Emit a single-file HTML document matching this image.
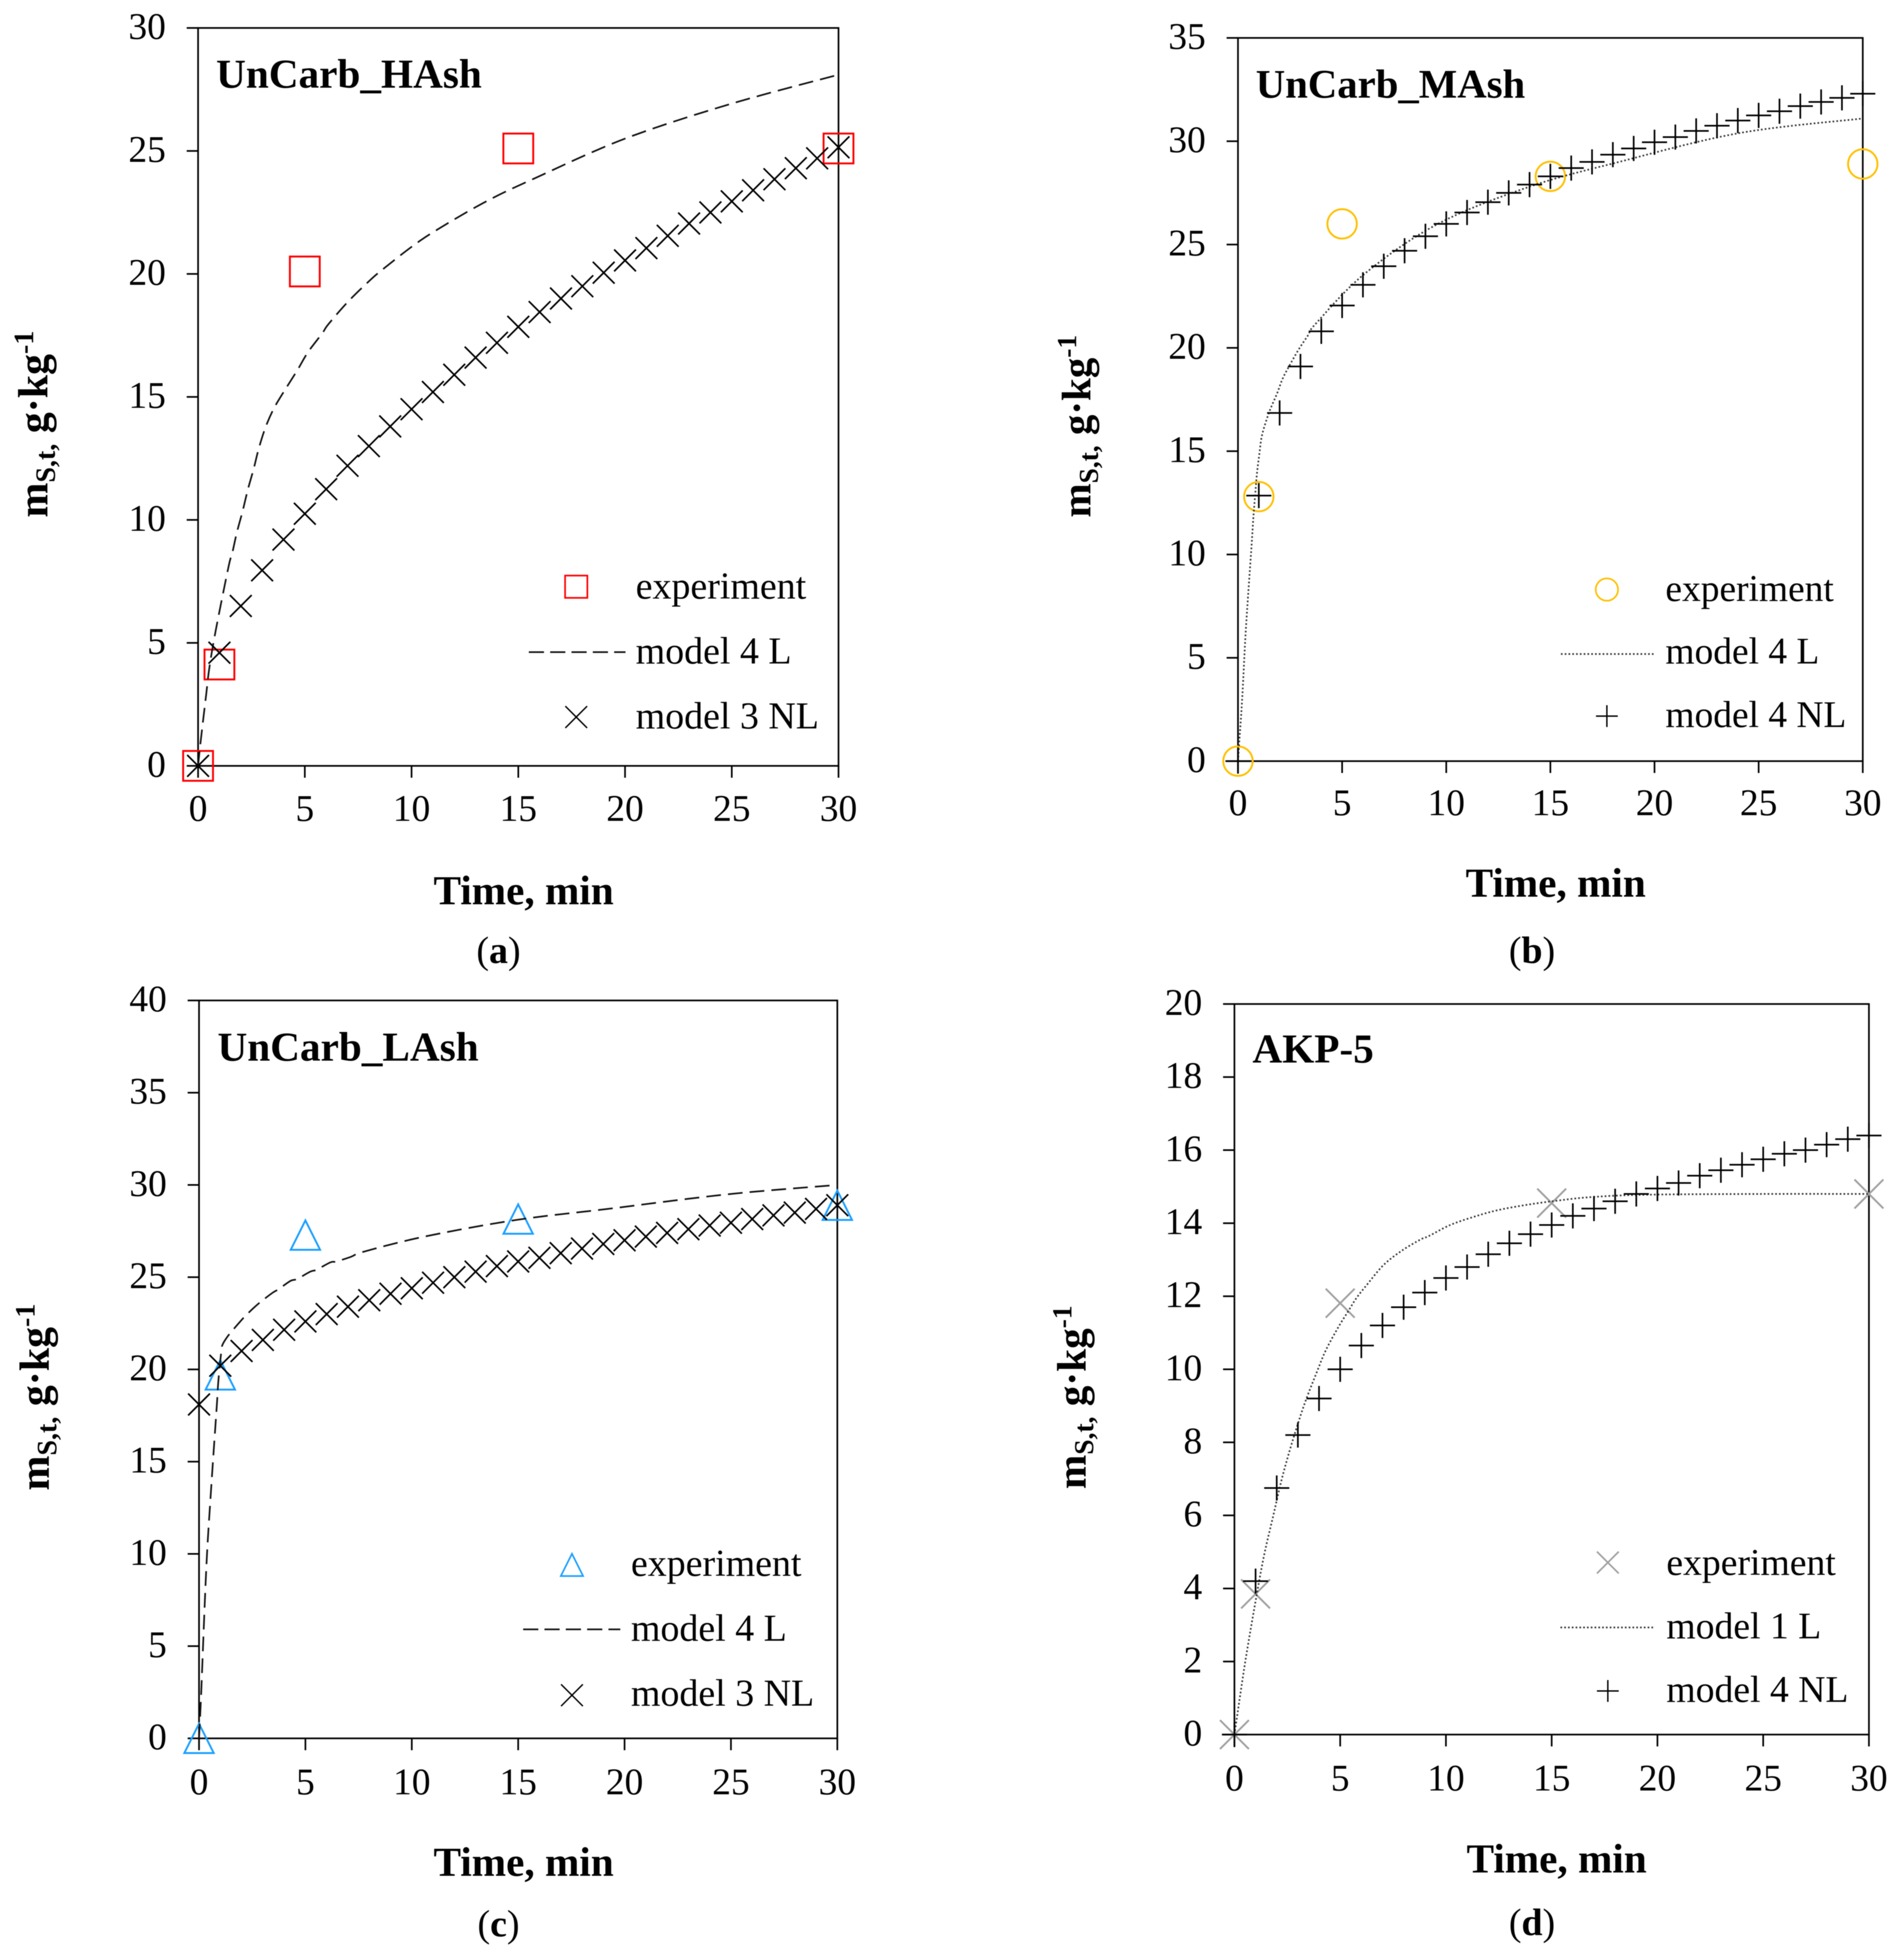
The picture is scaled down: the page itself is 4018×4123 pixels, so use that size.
<!DOCTYPE html>
<html lang="en">
<head>
<meta charset="utf-8">
<title>Kinetic model charts</title>
<style>
html,body{margin:0;padding:0;background:#fff;}
svg{display:block;filter:blur(0.7px);}
text{font-family:"Liberation Serif",serif;fill:#000;}
</style>
</head>
<body>
<svg id="figure" xmlns="http://www.w3.org/2000/svg" width="4018" height="4123" viewBox="0 0 4018 4123">
<rect x="0" y="0" width="4018" height="4123" fill="#fff"></rect>
</svg>
<script>
// ---- shared data ----
const xTicks = [0, 5, 10, 15, 20, 25, 30];
const modelTimes = [0,1,2,3,4,5,6,7,8,9,10,11,12,13,14,15,16,17,18,19,20,21,22,23,24,25,26,27,28,29,30];
const expTimes = [0, 1, 5, 15, 30];

// ---- panel (a) ----
const aTicksY = [0, 5, 10, 15, 20, 25, 30];
const aExp = [0, 4.12, 20.1, 25.1, 25.1];
const aLineT = [0, 0.13, 0.38, 0.53, 0.82, 1.42, 1.6, 1.82, 2.09, 2.33, 2.6, 2.84, 3.15, 3.55, 4.08, 4.64, 5.15, 5.82, 6.1, 7, 8, 8.6, 10, 11.2, 13.5, 15.8, 20, 24.9, 30];
const aLineV = [0, 1.07, 2.9, 4, 5.47, 8.07, 8.65, 9.5, 10.37, 11.23, 12.06, 12.89, 13.74, 14.53, 15.3, 16.07, 16.82, 17.59, 17.95, 18.85, 19.7, 20.15, 21.1, 21.8, 22.95, 23.9, 25.5, 26.9, 28.1];
const aModel = [0,4.6,6.5,7.95,9.2,10.25,11.25,12.2,13,13.8,14.5,15.2,15.9,16.6,17.2,17.85,18.45,19,19.5,20.05,20.55,21.05,21.55,22.05,22.5,22.95,23.4,23.85,24.3,24.7,25.15];
const aLegend = ["experiment", "model 4 L", "model 3 NL"];

// ---- panel (b) ----
const bTicksY = [0, 5, 10, 15, 20, 25, 30, 35];
const bExp = [0, 12.8, 26, 28.3, 28.9];
const bLineT = [0, 0.06, 0.15, 0.24, 0.35, 0.47, 0.65, 0.74, 0.85, 0.93, 1.02, 1.12, 1.27, 1.54, 1.88, 2.14, 2.45, 2.9, 3.36, 3.76, 6.1, 9.6, 14, 18.3, 24.1, 30];
const bLineV = [0, 0.9, 2.2, 3.7, 5.9, 7.8, 10.4, 11.8, 13.2, 14.1, 14.8, 15.6, 16.2, 17, 17.8, 18.5, 19.1, 19.9, 20.6, 21.2, 23.6, 26, 27.8, 29, 30.4, 31.1];
const bModel = [0,12.85,16.85,19.1,20.8,22.05,23.05,23.95,24.7,25.4,26,26.55,27.05,27.5,27.9,28.3,28.7,29,29.35,29.65,29.95,30.2,30.5,30.75,31,31.25,31.45,31.7,31.9,32.1,32.3];
const bLegend = ["experiment", "model 4 L", "model 4 NL"];

// ---- panel (c) ----
const cTicksY = [0, 5, 10, 15, 20, 25, 30, 35, 40];
const cExp = [0, 19.7, 27.28, 28.15, 28.9];
const cLineT = [0, 0.1, 0.34, 0.55, 0.71, 0.78, 0.85, 0.91, 1.05, 1.11, 1.29, 1.49, 1.94, 2.18, 2.63, 2.94, 3.45, 3.74, 4.3, 4.61, 5.23, 5.52, 6.17, 6.46, 7.13, 7.8, 10.6, 14.9, 19.2, 24.9, 30];
const cLineV = [0, 2.4, 9.2, 13.2, 15.95, 17.1, 18.3, 19.4, 21, 21.35, 21.7, 22, 22.6, 22.9, 23.4, 23.7, 24.15, 24.35, 24.8, 24.9, 25.3, 25.4, 25.8, 25.85, 26.1, 26.4, 27.2, 28.1, 28.7, 29.5, 30];
const cModel = [18.1,20.2,21,21.6,22.15,22.6,23,23.4,23.75,24.1,24.4,24.7,25,25.3,25.6,25.85,26.05,26.3,26.55,26.8,27,27.2,27.4,27.6,27.8,27.95,28.15,28.35,28.5,28.7,28.9];
const cLegend = ["experiment", "model 4 L", "model 3 NL"];

// ---- panel (d) ----
const dTicksY = [0, 2, 4, 6, 8, 10, 12, 14, 16, 18, 20];
const dExp = [0, 3.85, 11.81, 14.55, 14.8];
const dLineT = [0, 0.5, 1, 1.4, 1.84, 2.22, 2.6, 2.99, 3.38, 3.9, 4.32, 4.93, 5.36, 5.78, 6.3, 7.06, 7.92, 8.79, 9.2, 10.2, 11.3, 12.4, 13.8, 15.3, 17, 19.6, 25, 30];
const dLineV = [0, 1.95, 3.65, 4.9, 6, 6.95, 7.75, 8.49, 9.16, 9.93, 10.52, 11.17, 11.57, 11.96, 12.34, 12.86, 13.25, 13.55, 13.65, 13.95, 14.17, 14.35, 14.5, 14.62, 14.72, 14.78, 14.8, 14.8];
const dModel = [0,4.2,6.75,8.2,9.2,10,10.65,11.2,11.7,12.1,12.5,12.8,13.15,13.45,13.7,13.95,14.2,14.4,14.6,14.8,14.95,15.1,15.3,15.45,15.6,15.75,15.9,16,16.15,16.3,16.4];
const dLegend = ["experiment", "model 1 L", "model 4 NL"];

// ---- panel layout ----
const panels = [
  {id:"a", title:"UnCarb_HAsh", cap:"a", x0:418, x1:1769.5, y0:1616, y1:59, yMax:30, ticksY:aTicksY, exp:aExp, lineT:aLineT, lineV:aLineV, model:aModel, legend:aLegend,
   expShape:"square", expColor:"#ff0000", dash:"31 15", lineColor:"#111", modelShape:"cross", xLabelDy:116,
   titleX:456, titleY:185, titleSize:87, xTitleX:1105, xTitleY:1908, capX:1052, capY:2032, yTitleX:100, yTitleY:1092, yTitleSize:88.5,
   legText:1341.5, legSize:80, legBase:[1263,1400,1537], legX:1216, legY:[1238,1376,1513], legLine:[1116,1320]},
  {id:"b", title:"UnCarb_MAsh", cap:"b", x0:2612.5, x1:3931, y0:1606, y1:80, yMax:35, ticksY:bTicksY, exp:bExp, lineT:bLineT, lineV:bLineV, model:bModel, legend:bLegend,
   expShape:"circle", expColor:"#ffc000", dash:"3.5 4.5", lineColor:"#333", modelShape:"plus", xLabelDy:114,
   titleX:2650, titleY:206, titleSize:86, xTitleX:3283, xTitleY:1892, capX:3233, capY:2032, yTitleX:2301, yTitleY:1092, yTitleSize:86.5,
   legText:3514.5, legSize:79, legBase:[1268,1400,1534], legX:3391, legY:[1244,1380,1511], legLine:[3294,3491]},
  {id:"c", title:"UnCarb_LAsh", cap:"c", x0:420, x1:1767, y0:3668, y1:2111, yMax:40, ticksY:cTicksY, exp:cExp, lineT:cLineT, lineV:cLineV, model:cModel, legend:cLegend,
   expShape:"triangle", expColor:"#1a9fff", dash:"31 15", lineColor:"#111", modelShape:"cross", xLabelDy:118,
   titleX:459, titleY:2238, titleSize:87, xTitleX:1105, xTitleY:3958, capX:1052, capY:4086, yTitleX:103, yTitleY:3145, yTitleSize:88.5,
   legText:1331.5, legSize:80, legBase:[3325,3462,3599], legX:1207, legY:[3302,3438,3577], legLine:[1104,1309]},
  {id:"d", title:"AKP-5", cap:"d", x0:2605, x1:3944, y0:3660, y1:2118.5, yMax:20, ticksY:dTicksY, exp:dExp, lineT:dLineT, lineV:dLineV, model:dModel, legend:dLegend,
   expShape:"bigcross", expColor:"#a0a0a0", dash:"3.5 4.5", lineColor:"#333", modelShape:"plus", xLabelDy:118,
   titleX:2643, titleY:2242, titleSize:87, xTitleX:3285, xTitleY:3951, capX:3233, capY:4083, yTitleX:2291, yTitleY:3142, yTitleSize:87,
   legText:3516.5, legSize:79.5, legBase:[3323,3457,3591], legX:3393, legY:[3297,3434,3568], legLine:[3293,3493]}
];

const NS = "http://www.w3.org/2000/svg";
const root = document.getElementById("figure");

function mk(tag, parent, attrs) {
  const n = document.createElementNS(NS, tag);
  for (const k in attrs) n.setAttribute(k, attrs[k]);
  parent.appendChild(n);
  return n;
}

function segment(parent, x1, y1, x2, y2, color, width) {
  return mk("line", parent, {x1:x1, y1:y1, x2:x2, y2:y2, stroke:color, "stroke-width":width});
}

function marker(parent, shape, cx, cy, size, color, width) {
  const h = size / 2;
  const g = mk("g", parent, {fill:"none", stroke:color, "stroke-width":width});
  if (shape === "square") {
    mk("rect", g, {x:cx-h, y:cy-h, width:size, height:size});
  } else if (shape === "circle") {
    mk("circle", g, {cx:cx, cy:cy, r:h});
  } else if (shape === "triangle") {
    mk("polygon", g, {points:(cx-h)+","+(cy+h)+" "+(cx+h)+","+(cy+h)+" "+cx+","+(cy-h)});
  } else if (shape === "plus") {
    mk("line", g, {x1:cx-h, y1:cy, x2:cx+h, y2:cy});
    mk("line", g, {x1:cx, y1:cy-h, x2:cx, y2:cy+h});
  } else {
    mk("line", g, {x1:cx-h, y1:cy-h, x2:cx+h, y2:cy+h});
    mk("line", g, {x1:cx-h, y1:cy+h, x2:cx+h, y2:cy-h});
  }
  return g;
}

function smoothPath(pts) {
  let d = "M" + pts[0][0].toFixed(1) + " " + pts[0][1].toFixed(1);
  for (let i = 0; i < pts.length - 1; i++) {
    const p0 = pts[Math.max(i-1,0)], p1 = pts[i], p2 = pts[i+1], p3 = pts[Math.min(i+2,pts.length-1)];
    const c1x = p1[0] + (p2[0]-p0[0])/6, c1y = p1[1] + (p2[1]-p0[1])/6;
    const c2x = p2[0] - (p3[0]-p1[0])/6, c2y = p2[1] - (p3[1]-p1[1])/6;
    d += " C" + c1x.toFixed(1) + " " + c1y.toFixed(1) + " " + c2x.toFixed(1) + " " + c2y.toFixed(1) + " " + p2[0].toFixed(1) + " " + p2[1].toFixed(1);
  }
  return d;
}

const markerSizes = {square:63, circle:62, triangle:62, bigcross:61, cross:46, plus:53};
const legendSizes = {square:47, circle:47, triangle:47, bigcross:46, cross:46, plus:46};

panels.forEach(function (p) {
  const sx = function (t) { return p.x0 + (p.x1 - p.x0) * t / 30; };
  const sy = function (v) { return p.y0 + (p.y1 - p.y0) * v / p.yMax; };

  const panel = mk("g", root, {});
  
  

  // frame
  const frame = mk("rect", panel, {x:p.x0, y:p.y1, width:p.x1-p.x0, height:p.y0-p.y1, fill:"none", stroke:"#000", "stroke-width":3.5});
  
  

  // y ticks
  p.ticksY.forEach(function (v) {
    const tick = segment(panel, p.x0-24, sy(v), p.x0, sy(v), "#000", 3.5);
    
    
    const label = mk("text", panel, {x:p.x0-68, y:sy(v)+23, "font-size":79, "text-anchor":"end"});
    label.textContent = v;
    
    
  });

  // x ticks
  xTicks.forEach(function (t) {
    const tick = segment(panel, sx(t), p.y0, sx(t), p.y0+25, "#000", 3.5);
    
    
    const label = mk("text", panel, {x:sx(t), y:p.y0+p.xLabelDy, "font-size":79, "text-anchor":"middle"});
    label.textContent = t;
    
    
  });

  // experiment series
  const expGroup = mk("g", panel, {});
  
  
  expTimes.forEach(function (t, i) {
    const m = marker(expGroup, p.expShape, sx(t), sy(p.exp[i]), markerSizes[p.expShape], p.expColor, 4);
    
    
  });

  // linear model line
  const pts = p.lineT.map(function (t, i) { return [sx(t), sy(p.lineV[i])]; });
  const curve = mk("path", panel, {d:smoothPath(pts), fill:"none", stroke:p.lineColor, "stroke-width":3.5, "stroke-dasharray":p.dash});
  
  

  // non-linear model markers
  const modelGroup = mk("g", panel, {});
  
  
  modelTimes.forEach(function (t, i) {
    const m = marker(modelGroup, p.modelShape, sx(t), sy(p.model[i]), markerSizes[p.modelShape], "#000", 3.5);
    
    
  });

  // panel title
  const title = mk("text", panel, {x:p.titleX, y:p.titleY, "font-size":p.titleSize, "font-weight":"bold"});
  title.textContent = p.title;
  
  

  // x axis title
  const xTitle = mk("text", panel, {x:p.xTitleX, y:p.xTitleY, "font-size":87, "font-weight":"bold", "text-anchor":"middle"});
  xTitle.textContent = "Time, min";
  
  

  // y axis title
  const subSize = (p.yTitleSize * 0.667).toFixed(1);
  const yTitle = mk("text", panel, {transform:"translate("+p.yTitleX+" "+p.yTitleY+") rotate(-90)", x:0, y:0, "font-size":p.yTitleSize, "font-weight":"bold"});
  
  
  const t1 = mk("tspan", yTitle, {}); t1.textContent = "m";
  const t2 = mk("tspan", yTitle, {"font-size":subSize, dy:16}); t2.textContent = "S,t,";
  const t3 = mk("tspan", yTitle, {dy:-16}); t3.textContent = " g·kg";
  const t4 = mk("tspan", yTitle, {"font-size":subSize, dy:-30}); t4.textContent = "-1";

  // caption
  const cap = mk("text", panel, {x:p.capX, y:p.capY, "font-size":80, "text-anchor":"middle"});
  
  
  const c1 = mk("tspan", cap, {}); c1.textContent = "(";
  const c2 = mk("tspan", cap, {"font-weight":"bold"}); c2.textContent = p.cap;
  const c3 = mk("tspan", cap, {}); c3.textContent = ")";

  // legend
  const legend = mk("g", panel, {});
  
  
  const k0 = marker(legend, p.expShape, p.legX, p.legY[0], legendSizes[p.expShape], p.expColor, 3.5);
  
  
  const k1 = segment(legend, p.legLine[0], p.legY[1], p.legLine[1], p.legY[1], p.lineColor, 3.5);
  k1.setAttribute('stroke-dasharray', p.dash === "31 15" ? "32 13" : p.dash);
  
  
  const k2 = marker(legend, p.modelShape, p.legX, p.legY[2], legendSizes[p.modelShape], "#000", 3);
  
  
  p.legend.forEach(function (s, i) {
    const tx = mk("text", legend, {x:p.legText, y:p.legBase[i], "font-size":p.legSize});
    tx.textContent = s;
    
    
  });
});
</script>
</body>
</html>
